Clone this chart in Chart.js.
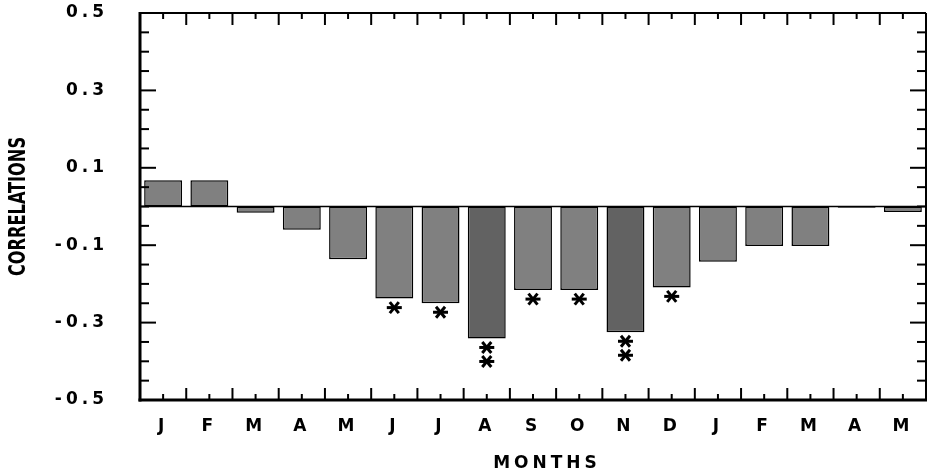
<!DOCTYPE html>
<html>
<head>
<meta charset="utf-8">
<script src="https://cdn.jsdelivr.net/npm/chart.js@4.4.1/dist/chart.umd.min.js"></script>
<style>
  html, body { margin: 0; padding: 0; background: #fff; }
</style>
</head>
<body>
<canvas id="corrChart" width="929" height="474"></canvas>
<script>
const months = ["J", "F", "M", "A", "M", "J", "J", "A", "S", "O", "N", "D", "J", "F", "M", "A", "M"];
const correlations = [0.068, 0.068, -0.016, -0.060, -0.136, -0.238, -0.250, -0.341, -0.216,
                      -0.216, -0.325, -0.209, -0.143, -0.102, -0.102, -0.003, -0.014];
// number of significance asterisks under each bar
const stars = [0, 0, 0, 0, 0, 1, 1, 2, 1, 1, 2, 1, 0, 0, 0, 0, 0];
const yTicks = [-0.5, -0.3, -0.1, 0.1, 0.3, 0.5];
const yMinorStep = 0.05;

const yTitle = "CORRELATIONS";
const xTitle = "MONTHS";

function line(ctx, x1, y1, x2, y2) {
  ctx.beginPath();
  ctx.moveTo(x1, y1);
  ctx.lineTo(x2, y2);
  ctx.stroke();
}

function asterisk(ctx, cx, cy) {
  ctx.lineWidth = 3;
  line(ctx, cx - 7.5, cy, cx + 7.5, cy);
  line(ctx, cx - 4.5, cy - 5.5, cx + 4.5, cy + 5.5);
  line(ctx, cx - 4.5, cy + 5.5, cx + 4.5, cy - 5.5);
}

// wide lettering used for tick labels
const spacingPlugin = {
  id: "spacing",
  beforeUpdate(chart) { chart.ctx.letterSpacing = "4px"; },
  beforeDraw(chart) { chart.ctx.letterSpacing = "4px"; }
};

// frame, inward ticks, zero line, asterisks and axis titles
const framePlugin = {
  id: "frame",
  afterDatasetsDraw(chart) {
    const { ctx, chartArea: a, scales: { x, y } } = chart;
    ctx.save();
    ctx.strokeStyle = "#000";
    ctx.fillStyle = "#000";

    // zero line
    ctx.lineWidth = 1.6;
    const y0 = y.getPixelForValue(0);
    line(ctx, a.left, y0, a.right, y0);

    // y ticks (both sides)
    ctx.lineWidth = 2;
    const n = Math.round((y.max - y.min) / yMinorStep);
    for (let i = 1; i < n; i++) {
      const v = y.min + i * yMinorStep;
      const py = y.getPixelForValue(v);
      const major = yTicks.some(t => Math.abs(t - v) < 1e-6);
      const len = major ? 16 : 9;
      line(ctx, a.left, py, a.left + len, py);
      line(ctx, a.right, py, a.right - len, py);
    }

    // x ticks (top and bottom): short at centres, long at boundaries
    const half = (x.getPixelForValue(1) - x.getPixelForValue(0)) / 2;
    for (let i = 0; i < months.length; i++) {
      const c = x.getPixelForValue(i);
      line(ctx, c, a.bottom, c, a.bottom - 6);
      line(ctx, c, a.top, c, a.top + 6);
      if (i < months.length - 1) {
        line(ctx, c + half, a.bottom, c + half, a.bottom - 12);
        line(ctx, c + half, a.top, c + half, a.top + 12);
      }
    }

    // frame
    ctx.lineWidth = 2;
    line(ctx, a.left, a.top, a.right, a.top);
    line(ctx, a.right, a.top, a.right, a.bottom);
    ctx.lineWidth = 3;
    line(ctx, a.left, a.top - 1, a.left, a.bottom + 1.5);
    line(ctx, a.left - 1.5, a.bottom, a.right + 1, a.bottom);

    // asterisks below significant bars
    const bars = chart.getDatasetMeta(0).data;
    bars.forEach((bar, i) => {
      for (let k = 0; k < stars[i]; k++) {
        asterisk(ctx, bar.x, bar.y + 9 + k * 14);
      }
    });

    // axis titles
    ctx.letterSpacing = "0px";
    ctx.textAlign = "center";
    ctx.textBaseline = "middle";
    ctx.save();
    ctx.translate(19, (a.top + a.bottom) / 2);
    ctx.rotate(-Math.PI / 2);
    ctx.scale(1, 1.3);
    ctx.font = "bold 18px 'DejaVu Sans Condensed', 'DejaVu Sans'";
    ctx.fillText(yTitle, 0, 0);
    ctx.restore();

    ctx.letterSpacing = "4px";
    ctx.font = "bold 17px 'DejaVu Sans'";
    ctx.fillText(xTitle, 547, 464);
    ctx.restore();
  }
};

function noPadding(s) {
  s.paddingTop = 0;
  s.paddingBottom = 0;
  s.paddingLeft = 0;
  s.paddingRight = 0;
}

new Chart(document.getElementById("corrChart"), {
  type: "bar",
  data: {
    labels: months,
    datasets: [{
      data: correlations,
      backgroundColor: ctx => stars[ctx.dataIndex] === 2 ? "#626262" : "#808080",
      borderColor: "#000",
      borderWidth: 1.5,
      borderSkipped: false,
      barPercentage: 0.82,
      categoryPercentage: 1
    }]
  },
  options: {
    responsive: false,
    animation: false,
    layout: { padding: { top: 13, right: 3, left: 0, bottom: 0 } },
    plugins: {
      legend: { display: false },
      tooltip: { enabled: false }
    },
    scales: {
      x: {
        grid: { display: false },
        border: { display: false },
        ticks: {
          color: "#000",
          padding: 8,
          font: { family: "DejaVu Sans", size: 17, weight: "bold" }
        },
        afterFit: s => { s.height = 74; noPadding(s); }
      },
      y: {
        min: -0.5,
        max: 0.5,
        afterBuildTicks: s => { s.ticks = yTicks.map(v => ({ value: v })); },
        grid: { display: false },
        border: { display: false },
        ticks: {
          color: "#000",
          padding: 24,
          font: { family: "DejaVu Sans", size: 17, weight: "bold" },
          callback: v => v.toFixed(1)
        },
        afterFit: s => { s.width = 140; noPadding(s); }
      }
    }
  },
  plugins: [spacingPlugin, framePlugin]
});
</script>
</body>
</html>
